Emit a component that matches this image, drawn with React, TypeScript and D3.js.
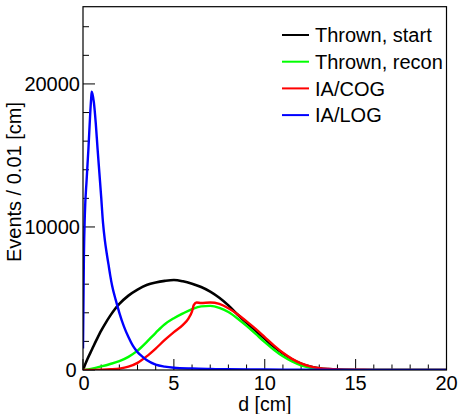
import React from "react";
import * as d3 from "d3";

const seriesNames = ["Thrown, start", "Thrown, recon", "IA/COG", "IA/LOG"];
const seriesColors = ["#000000", "#00ff00", "#ff0000", "#0000ff"];

// d [cm] , Events / 0.01 cm
const blackD = [0, 0.25, 0.5, 0.75, 1.0, 1.25, 1.5, 1.75, 2.0, 2.5, 3.0, 3.5, 4.0, 4.5, 5.0, 5.5, 6.0, 6.5, 7.0, 7.5, 8.0, 8.5, 9.0, 9.5, 10.0, 10.5, 11.0, 11.5, 12.0, 12.5, 13.0, 13.5, 14.0, 15.0, 16.0, 20.0];
const blackV = [0, 780, 1450, 2120, 2750, 3300, 3800, 4250, 4620, 5200, 5620, 5940, 6120, 6230, 6290, 6200, 6030, 5800, 5480, 5050, 4520, 3880, 3300, 2750, 2180, 1620, 1150, 750, 440, 240, 120, 60, 25, 5, 0, 0];

const greenD = [0, 0.5, 1.0, 1.5, 2.0, 2.5, 3.0, 3.5, 4.0, 4.5, 5.0, 5.5, 6.0, 6.5, 7.0, 7.5, 8.0, 8.5, 9.0, 9.5, 10.0, 10.5, 11.0, 11.5, 12.0, 12.5, 13.0, 13.5, 14.0, 15.0, 20.0];
const greenV = [0, 100, 250, 420, 620, 920, 1350, 1950, 2600, 3200, 3620, 3960, 4260, 4450, 4480, 4350, 4050, 3600, 3080, 2520, 1950, 1420, 960, 600, 330, 160, 70, 30, 12, 5, 0];

const redD = [0, 0.5, 1.0, 1.5, 2.0, 2.5, 3.0, 3.5, 4.0, 4.5, 5.0, 5.5, 5.8, 6.0, 6.1, 6.25, 6.5, 7.0, 7.5, 8.0, 8.5, 9.0, 9.5, 10.0, 10.5, 11.0, 11.5, 12.0, 12.5, 13.0, 13.5, 14.0, 15.0, 16.0, 17.0, 20.0];
const redV = [0, 0, 20, 50, 100, 230, 500, 950, 1500, 2100, 2650, 3150, 3600, 4100, 4550, 4720, 4680, 4720, 4620, 4320, 3900, 3400, 2880, 2300, 1720, 1200, 780, 460, 250, 130, 70, 40, 20, 10, 5, 0];

const blueD = [0, 0.05, 0.1, 0.2, 0.3, 0.4, 0.45, 0.48, 0.52, 0.6, 0.7, 0.8, 0.9, 1.0, 1.1, 1.2, 1.3, 1.4, 1.5, 1.6, 1.8, 2.0, 2.25, 2.5, 2.75, 3.0, 3.25, 3.5, 4.0, 4.5, 5.0, 6.0, 7.0, 8.0, 10.0, 12.0, 15.0, 20.0];
const blueV = [1500, 8000, 10800, 13300, 15500, 18000, 19000, 19450, 19300, 18700, 17300, 15500, 13800, 12100, 10300, 9100, 8200, 7400, 6600, 5900, 4900, 4000, 3050, 2300, 1680, 1250, 950, 700, 380, 240, 160, 100, 70, 50, 30, 20, 10, 5];

const xTicks = [0, 5, 10, 15, 20];
const yTicks = [0, 10000, 20000];

const xTitle = "d [cm]";
const yTitle = "Events / 0.01 [cm]";

export default function App() {
  const W = 459, H = 414;
  const left = 83, right = 446.5, top = 6.7, bottom = 370;
  const x = d3.scaleLinear().domain([0, 20]).range([left, right]);
  const y = d3.scaleLinear().domain([0, 25400]).range([bottom, top]);

  const series = [
    { d: blackD, v: blackV, c: seriesColors[0], w: 2.6 },
    { d: greenD, v: greenV, c: seriesColors[1], w: 2.4 },
    { d: redD, v: redV, c: seriesColors[2], w: 2.4 },
    { d: blueD, v: blueV, c: seriesColors[3], w: 2.4 },
  ];

  const line = d3
    .line<[number, number]>()
    .x((p) => x(p[0]))
    .y((p) => y(p[1]))
    .curve(d3.curveMonotoneX);

  const xMinor = d3.range(0, 20.001, 1);
  const yMinor = d3.range(0, 25001, 2000);
  const font = "'Liberation Sans', Arial, Helvetica, sans-serif";

  return (
    <svg
      width={W}
      height={H}
      style={{ position: "absolute", left: 0, top: 0, background: "#fff" }}
      fontFamily={font}
    >
      <defs>
        <clipPath id="plotclip">
          <rect x={left} y={top} width={right - left} height={bottom - top} />
        </clipPath>
      </defs>
      <rect x={0} y={0} width={W} height={H} fill="#fff" />

      {xMinor.map((t) => {
        const major = t % 5 === 0;
        return (
          <line key={"xt" + t} x1={x(t)} x2={x(t)} y1={bottom} y2={bottom - (major ? 11 : 5.5)} stroke="#000" strokeWidth={1} />
        );
      })}
      {yMinor.map((t) => {
        const major = t % 10000 === 0;
        return (
          <line key={"yt" + t} x1={left} x2={left + (major ? 12 : 6)} y1={y(t)} y2={y(t)} stroke="#000" strokeWidth={1} />
        );
      })}

      <g clipPath="url(#plotclip)">
        {series.map((s, i) => (
          <path
            key={i}
            d={line(s.d.map((dd, k) => [dd, s.v[k]] as [number, number])) || ""}
            fill="none"
            stroke={s.c}
            strokeWidth={s.w}
            strokeLinejoin="round"
          />
        ))}
      </g>

      <rect x={left} y={top} width={right - left} height={bottom - top} fill="none" stroke="#000" strokeWidth={1.2} />

      {xTicks.map((t) => (
        <text key={"xl" + t} x={x(t) + (t === 0 ? 1 : 0)} y={389.5} textAnchor="middle" fontSize={20}>
          {t}
        </text>
      ))}
      {yTicks.map((t) => (
        <text key={"yl" + t} x={t === 0 ? 76.5 : 80} y={y(t)} dy="0.36em" textAnchor="end" fontSize={20}>
          {t}
        </text>
      ))}

      <text x={(left + right) / 2} y={410.5} textAnchor="middle" fontSize={19.5}>
        {xTitle}
      </text>
      <text transform={`translate(21,102) rotate(-90)`} textAnchor="end" fontSize={20}>
        {yTitle}
      </text>

      {seriesNames.map((n, i) => {
        const ly = 35 + i * 26.7;
        return (
          <g key={"lg" + i}>
            <line x1={282} x2={309} y1={ly} y2={ly} stroke={seriesColors[i]} strokeWidth={2} />
            <text x={315} y={ly} dy="0.36em" fontSize={20}>
              {n}
            </text>
          </g>
        );
      })}
    </svg>
  );
}
